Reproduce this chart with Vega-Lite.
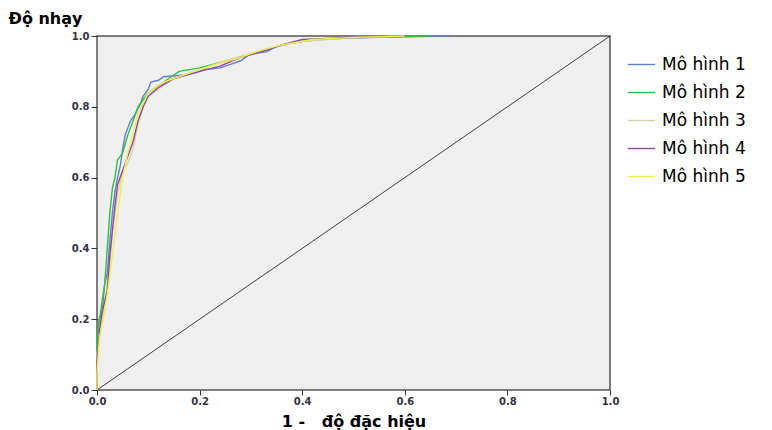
{
  "$schema": "https://vega.github.io/schema/vega-lite/v6.json",
  "width": 513,
  "height": 354,
  "autosize": "none",
  "padding": {"left": 97, "top": 36, "right": 162, "bottom": 40},
  "background": "white",
  "config": {
    "view": {"fill": "#f0f0f0", "stroke": "#555555", "strokeWidth": 1.5},
    "font": "DejaVu Sans"
  },
  "datasets": {
    "roc": [
      {"model": "Mô hình 1", "fpr": 0, "tpr": 0},
      {"model": "Mô hình 1", "fpr": 0, "tpr": 0.12},
      {"model": "Mô hình 1", "fpr": 0.004, "tpr": 0.2},
      {"model": "Mô hình 1", "fpr": 0.01, "tpr": 0.22},
      {"model": "Mô hình 1", "fpr": 0.015, "tpr": 0.3},
      {"model": "Mô hình 1", "fpr": 0.02, "tpr": 0.33},
      {"model": "Mô hình 1", "fpr": 0.025, "tpr": 0.42},
      {"model": "Mô hình 1", "fpr": 0.03, "tpr": 0.5},
      {"model": "Mô hình 1", "fpr": 0.035, "tpr": 0.56},
      {"model": "Mô hình 1", "fpr": 0.04, "tpr": 0.6},
      {"model": "Mô hình 1", "fpr": 0.045, "tpr": 0.63},
      {"model": "Mô hình 1", "fpr": 0.05, "tpr": 0.68},
      {"model": "Mô hình 1", "fpr": 0.055, "tpr": 0.72},
      {"model": "Mô hình 1", "fpr": 0.065, "tpr": 0.76},
      {"model": "Mô hình 1", "fpr": 0.075, "tpr": 0.78},
      {"model": "Mô hình 1", "fpr": 0.085, "tpr": 0.81},
      {"model": "Mô hình 1", "fpr": 0.09, "tpr": 0.83},
      {"model": "Mô hình 1", "fpr": 0.1, "tpr": 0.85},
      {"model": "Mô hình 1", "fpr": 0.105, "tpr": 0.87},
      {"model": "Mô hình 1", "fpr": 0.12, "tpr": 0.875},
      {"model": "Mô hình 1", "fpr": 0.13, "tpr": 0.885},
      {"model": "Mô hình 1", "fpr": 0.17, "tpr": 0.89},
      {"model": "Mô hình 1", "fpr": 0.19, "tpr": 0.895},
      {"model": "Mô hình 1", "fpr": 0.21, "tpr": 0.905},
      {"model": "Mô hình 1", "fpr": 0.24, "tpr": 0.91},
      {"model": "Mô hình 1", "fpr": 0.26, "tpr": 0.92},
      {"model": "Mô hình 1", "fpr": 0.28, "tpr": 0.93},
      {"model": "Mô hình 1", "fpr": 0.3, "tpr": 0.95},
      {"model": "Mô hình 1", "fpr": 0.33, "tpr": 0.955},
      {"model": "Mô hình 1", "fpr": 0.35, "tpr": 0.97},
      {"model": "Mô hình 1", "fpr": 0.38, "tpr": 0.98},
      {"model": "Mô hình 1", "fpr": 0.42, "tpr": 0.99},
      {"model": "Mô hình 1", "fpr": 0.5, "tpr": 0.995},
      {"model": "Mô hình 1", "fpr": 0.6, "tpr": 0.998},
      {"model": "Mô hình 1", "fpr": 0.69, "tpr": 1.0},

      {"model": "Mô hình 2", "fpr": 0, "tpr": 0},
      {"model": "Mô hình 2", "fpr": 0, "tpr": 0.15},
      {"model": "Mô hình 2", "fpr": 0.005, "tpr": 0.2},
      {"model": "Mô hình 2", "fpr": 0.01, "tpr": 0.25},
      {"model": "Mô hình 2", "fpr": 0.015, "tpr": 0.3},
      {"model": "Mô hình 2", "fpr": 0.02, "tpr": 0.4},
      {"model": "Mô hình 2", "fpr": 0.025, "tpr": 0.5},
      {"model": "Mô hình 2", "fpr": 0.03, "tpr": 0.57},
      {"model": "Mô hình 2", "fpr": 0.035, "tpr": 0.6},
      {"model": "Mô hình 2", "fpr": 0.04, "tpr": 0.65},
      {"model": "Mô hình 2", "fpr": 0.05, "tpr": 0.67},
      {"model": "Mô hình 2", "fpr": 0.06, "tpr": 0.72},
      {"model": "Mô hình 2", "fpr": 0.07, "tpr": 0.76},
      {"model": "Mô hình 2", "fpr": 0.08, "tpr": 0.8},
      {"model": "Mô hình 2", "fpr": 0.09, "tpr": 0.82},
      {"model": "Mô hình 2", "fpr": 0.1, "tpr": 0.84},
      {"model": "Mô hình 2", "fpr": 0.12, "tpr": 0.86},
      {"model": "Mô hình 2", "fpr": 0.14, "tpr": 0.88},
      {"model": "Mô hình 2", "fpr": 0.16, "tpr": 0.9},
      {"model": "Mô hình 2", "fpr": 0.2, "tpr": 0.91},
      {"model": "Mô hình 2", "fpr": 0.24, "tpr": 0.925},
      {"model": "Mô hình 2", "fpr": 0.28, "tpr": 0.94},
      {"model": "Mô hình 2", "fpr": 0.32, "tpr": 0.955},
      {"model": "Mô hình 2", "fpr": 0.36, "tpr": 0.975},
      {"model": "Mô hình 2", "fpr": 0.4, "tpr": 0.985},
      {"model": "Mô hình 2", "fpr": 0.45, "tpr": 0.992},
      {"model": "Mô hình 2", "fpr": 0.55, "tpr": 0.997},
      {"model": "Mô hình 2", "fpr": 0.65, "tpr": 1.0},

      {"model": "Mô hình 3", "fpr": 0, "tpr": 0},
      {"model": "Mô hình 3", "fpr": 0, "tpr": 0.1},
      {"model": "Mô hình 3", "fpr": 0.008, "tpr": 0.18},
      {"model": "Mô hình 3", "fpr": 0.015, "tpr": 0.25},
      {"model": "Mô hình 3", "fpr": 0.025, "tpr": 0.35},
      {"model": "Mô hình 3", "fpr": 0.03, "tpr": 0.45},
      {"model": "Mô hình 3", "fpr": 0.04, "tpr": 0.55},
      {"model": "Mô hình 3", "fpr": 0.05, "tpr": 0.62},
      {"model": "Mô hình 3", "fpr": 0.06, "tpr": 0.64},
      {"model": "Mô hình 3", "fpr": 0.07, "tpr": 0.68},
      {"model": "Mô hình 3", "fpr": 0.08, "tpr": 0.75},
      {"model": "Mô hình 3", "fpr": 0.09, "tpr": 0.8},
      {"model": "Mô hình 3", "fpr": 0.1, "tpr": 0.83},
      {"model": "Mô hình 3", "fpr": 0.12, "tpr": 0.85},
      {"model": "Mô hình 3", "fpr": 0.15, "tpr": 0.88},
      {"model": "Mô hình 3", "fpr": 0.2, "tpr": 0.905},
      {"model": "Mô hình 3", "fpr": 0.25, "tpr": 0.93},
      {"model": "Mô hình 3", "fpr": 0.3, "tpr": 0.95},
      {"model": "Mô hình 3", "fpr": 0.35, "tpr": 0.97},
      {"model": "Mô hình 3", "fpr": 0.4, "tpr": 0.985},
      {"model": "Mô hình 3", "fpr": 0.5, "tpr": 0.995},
      {"model": "Mô hình 3", "fpr": 0.6, "tpr": 1.0},

      {"model": "Mô hình 4", "fpr": 0, "tpr": 0},
      {"model": "Mô hình 4", "fpr": 0, "tpr": 0.08},
      {"model": "Mô hình 4", "fpr": 0.005, "tpr": 0.17},
      {"model": "Mô hình 4", "fpr": 0.01, "tpr": 0.22},
      {"model": "Mô hình 4", "fpr": 0.02, "tpr": 0.28},
      {"model": "Mô hình 4", "fpr": 0.025, "tpr": 0.38},
      {"model": "Mô hình 4", "fpr": 0.03, "tpr": 0.45},
      {"model": "Mô hình 4", "fpr": 0.035, "tpr": 0.52},
      {"model": "Mô hình 4", "fpr": 0.04, "tpr": 0.58},
      {"model": "Mô hình 4", "fpr": 0.05, "tpr": 0.62},
      {"model": "Mô hình 4", "fpr": 0.06, "tpr": 0.66},
      {"model": "Mô hình 4", "fpr": 0.07, "tpr": 0.7},
      {"model": "Mô hình 4", "fpr": 0.08, "tpr": 0.76},
      {"model": "Mô hình 4", "fpr": 0.09, "tpr": 0.8},
      {"model": "Mô hình 4", "fpr": 0.1, "tpr": 0.83},
      {"model": "Mô hình 4", "fpr": 0.12, "tpr": 0.855},
      {"model": "Mô hình 4", "fpr": 0.15, "tpr": 0.88},
      {"model": "Mô hình 4", "fpr": 0.2, "tpr": 0.9},
      {"model": "Mô hình 4", "fpr": 0.24, "tpr": 0.915},
      {"model": "Mô hình 4", "fpr": 0.28, "tpr": 0.94},
      {"model": "Mô hình 4", "fpr": 0.32, "tpr": 0.955},
      {"model": "Mô hình 4", "fpr": 0.36, "tpr": 0.975},
      {"model": "Mô hình 4", "fpr": 0.4, "tpr": 0.99},
      {"model": "Mô hình 4", "fpr": 0.5, "tpr": 0.996},
      {"model": "Mô hình 4", "fpr": 0.6, "tpr": 1.0},

      {"model": "Mô hình 5", "fpr": 0, "tpr": 0},
      {"model": "Mô hình 5", "fpr": 0, "tpr": 0.05},
      {"model": "Mô hình 5", "fpr": 0.005, "tpr": 0.15},
      {"model": "Mô hình 5", "fpr": 0.012, "tpr": 0.2},
      {"model": "Mô hình 5", "fpr": 0.02, "tpr": 0.27},
      {"model": "Mô hình 5", "fpr": 0.03, "tpr": 0.38},
      {"model": "Mô hình 5", "fpr": 0.04, "tpr": 0.5},
      {"model": "Mô hình 5", "fpr": 0.05, "tpr": 0.6},
      {"model": "Mô hình 5", "fpr": 0.06, "tpr": 0.67},
      {"model": "Mô hình 5", "fpr": 0.07, "tpr": 0.72},
      {"model": "Mô hình 5", "fpr": 0.08, "tpr": 0.78},
      {"model": "Mô hình 5", "fpr": 0.09, "tpr": 0.81},
      {"model": "Mô hình 5", "fpr": 0.1, "tpr": 0.84},
      {"model": "Mô hình 5", "fpr": 0.13, "tpr": 0.87},
      {"model": "Mô hình 5", "fpr": 0.17, "tpr": 0.89},
      {"model": "Mô hình 5", "fpr": 0.22, "tpr": 0.915},
      {"model": "Mô hình 5", "fpr": 0.27, "tpr": 0.935},
      {"model": "Mô hình 5", "fpr": 0.32, "tpr": 0.96},
      {"model": "Mô hình 5", "fpr": 0.36, "tpr": 0.975},
      {"model": "Mô hình 5", "fpr": 0.42, "tpr": 0.99},
      {"model": "Mô hình 5", "fpr": 0.5, "tpr": 0.996},
      {"model": "Mô hình 5", "fpr": 0.6, "tpr": 1.0}
    ],
    "diag": [
      {"fpr": 0, "tpr": 0},
      {"fpr": 1, "tpr": 1}
    ]
  },
  "layer": [
    {
      "data": {"name": "diag"},
      "mark": {"type": "line", "color": "#111111", "strokeWidth": 0.8},
      "encoding": {
        "x": {"field": "fpr", "type": "quantitative"},
        "y": {"field": "tpr", "type": "quantitative"}
      }
    },
    {
      "data": {"name": "roc"},
      "mark": {"type": "line", "strokeWidth": 1.4},
      "encoding": {
        "x": {
          "field": "fpr", "type": "quantitative",
          "scale": {"domain": [0, 1], "nice": false},
          "axis": {
            "title": "1 -\u00a0\u00a0\u00a0độ đặc hiệu",
            "titleFontSize": 16, "titleFontWeight": "bold", "titleColor": "#000000",
            "titlePadding": 7,
            "values": [0, 0.2, 0.4, 0.6, 0.8, 1.0], "format": ".1f",
            "labelFontSize": 10, "labelFontWeight": "bold", "labelColor": "#333344",
            "tickColor": "#333333", "tickSize": 5, "domain": false, "grid": false,
            "labelPadding": 1, "labelFlush": false
          }
        },
        "y": {
          "field": "tpr", "type": "quantitative",
          "scale": {"domain": [0, 1], "nice": false},
          "axis": {
            "title": "Độ nhạy",
            "titleAngle": 0, "titleAlign": "left", "titleBaseline": "alphabetic",
            "titleX": -89, "titleY": -13,
            "titleFontSize": 16, "titleFontWeight": "bold", "titleColor": "#000000",
            "values": [0, 0.2, 0.4, 0.6, 0.8, 1.0], "format": ".1f",
            "labelFontSize": 10, "labelFontWeight": "bold", "labelColor": "#333344",
            "tickColor": "#333333", "tickSize": 6, "domain": false, "grid": false,
            "labelPadding": 2, "labelFlush": false
          }
        },
        "color": {
          "field": "model", "type": "nominal",
          "scale": {
            "domain": ["Mô hình 1", "Mô hình 2", "Mô hình 3", "Mô hình 4", "Mô hình 5"],
            "range": ["#5f7fd3", "#2fc23a", "#d6d2a6", "#92489e", "#f2ee4c"]
          },
          "legend": {
            "title": null,
            "orient": "none", "legendX": 530, "legendY": 14,
            "symbolType": "stroke", "symbolSize": 750, "symbolStrokeWidth": 1.4,
            "labelFontSize": 17, "labelColor": "#000000", "labelFont": "DejaVu Sans",
            "labelOffset": 6, "rowPadding": 5
          }
        },
        "order": [{"field": "tpr"}, {"field": "fpr"}]
      }
    }
  ]
}
